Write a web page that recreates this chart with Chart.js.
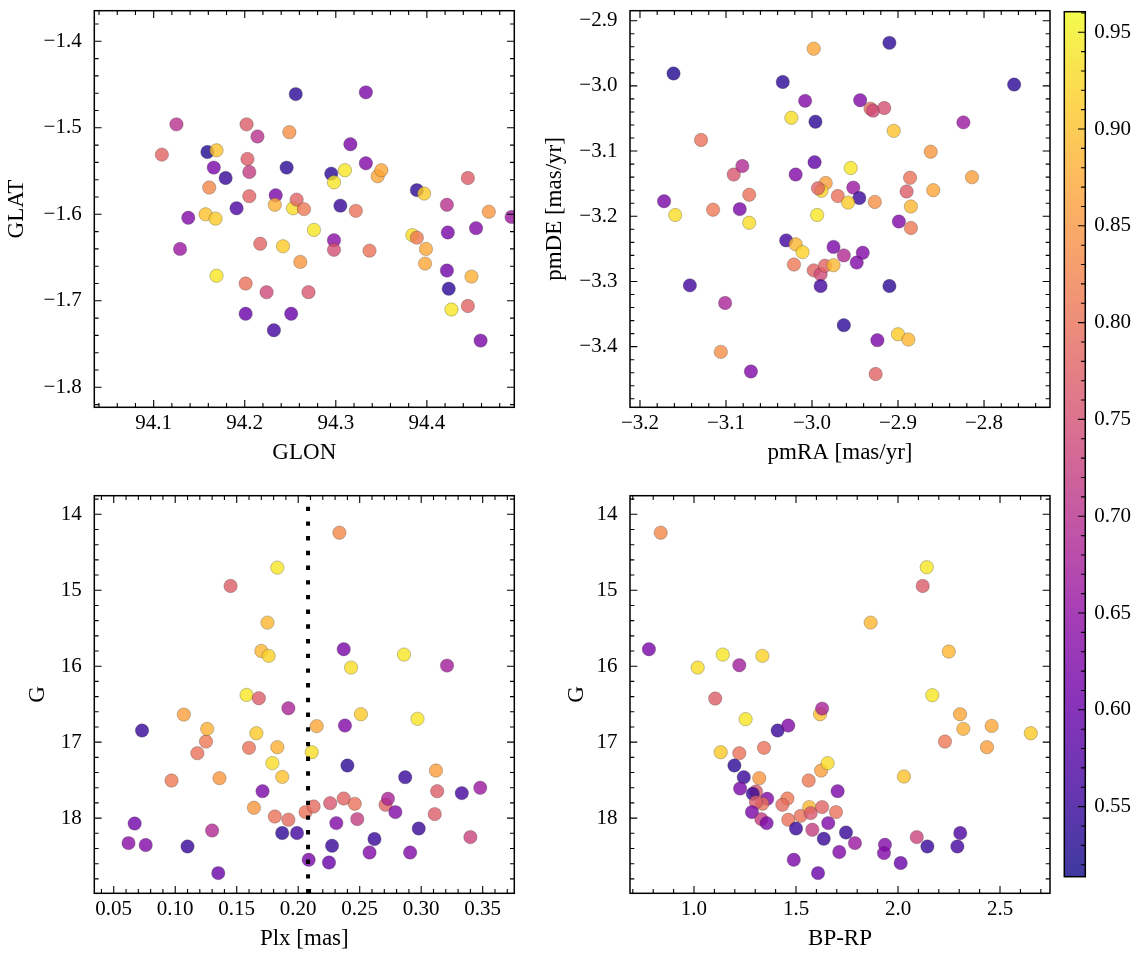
<!DOCTYPE html>
<html>
<head>
<meta charset="utf-8">
<script src="https://cdn.jsdelivr.net/npm/chart.js@4.4.0/dist/chart.umd.min.js"></script>
<style>
  html, body { margin: 0; padding: 0; background: #fff; overflow: hidden; }
  #fig { position: relative; width: 1144px; height: 960px; }
  #fig canvas { position: absolute; left: 0; top: 0; }
</style>
</head>
<body>
<div id="fig">
  <canvas id="pos" width="1144" height="960"></canvas>
  <canvas id="pm" width="1144" height="960"></canvas>
  <canvas id="plx" width="1144" height="960"></canvas>
  <canvas id="cmd" width="1144" height="960"></canvas>
  <canvas id="cbar" width="1144" height="960"></canvas>
</div>
<script>
// membership probability range (colour scale)
const probMin = 0.5138;
const probMax = 0.9606;

// GLON / GLAT panel
const glon = [94.109, 94.125, 94.138, 94.129, 94.159, 94.169, 94.166, 94.179, 94.161, 94.157,
  94.168, 94.191, 94.169, 94.202, 94.214, 94.203, 94.205, 94.205, 94.201, 94.201,
  94.217, 94.224, 94.232, 94.249, 94.246, 94.234, 94.233, 94.242, 94.251, 94.256,
  94.253, 94.257, 94.265, 94.261, 94.270, 94.276, 94.295, 94.298, 94.310, 94.305,
  94.298, 94.298, 94.316, 94.333, 94.333, 94.322, 94.337, 94.346, 94.350, 94.389,
  94.397, 94.384, 94.389, 94.399, 94.398, 94.422, 94.423, 94.422, 94.424, 94.427,
  94.445, 94.449, 94.445, 94.454, 94.459, 94.468, 94.493];
const glat = [-1.531, -1.496, -1.604, -1.640, -1.528, -1.526, -1.546, -1.558, -1.569, -1.600,
  -1.605, -1.593, -1.671, -1.496, -1.510, -1.536, -1.551, -1.579, -1.680, -1.715,
  -1.634, -1.690, -1.734, -1.505, -1.546, -1.578, -1.589, -1.637, -1.715, -1.461,
  -1.593, -1.583, -1.594, -1.655, -1.690, -1.618, -1.553, -1.563, -1.549, -1.590,
  -1.630, -1.641, -1.519, -1.459, -1.541, -1.596, -1.642, -1.556, -1.549, -1.572,
  -1.576, -1.624, -1.627, -1.640, -1.657, -1.589, -1.621, -1.665, -1.686, -1.710,
  -1.558, -1.672, -1.706, -1.616, -1.746, -1.597, -1.603];
const probPos = [0.78, 0.70, 0.63, 0.66, 0.53, 0.90, 0.62, 0.55, 0.83, 0.90,
  0.91, 0.57, 0.94, 0.77, 0.70, 0.77, 0.72, 0.78, 0.80, 0.60,
  0.78, 0.74, 0.56, 0.84, 0.54, 0.62, 0.88, 0.91, 0.60, 0.54,
  0.93, 0.78, 0.81, 0.85, 0.76, 0.94, 0.54, 0.94, 0.94, 0.55,
  0.64, 0.75, 0.62, 0.62, 0.63, 0.80, 0.80, 0.87, 0.87, 0.54,
  0.91, 0.93, 0.81, 0.87, 0.87, 0.70, 0.62, 0.61, 0.54, 0.94,
  0.77, 0.88, 0.78, 0.63, 0.62, 0.85, 0.66];

// pmRA / pmDE panel
const pmra = [-3.161, -3.129, -3.172, -3.159, -3.142, -3.115, -3.101, -3.106, -3.091, -3.081,
  -3.073, -3.084, -3.073, -3.071, -3.034, -3.008, -3.024, -2.996, -2.998, -2.997,
  -3.019, -2.984, -2.989, -2.993, -2.970, -2.994, -3.030, -3.019, -3.011, -3.021,
  -2.998, -2.990, -2.990, -2.985, -2.975, -2.975, -2.963, -2.963, -2.955, -2.952,
  -2.945, -2.958, -2.927, -2.948, -2.941, -2.910, -2.944, -2.932, -2.929, -2.916,
  -2.905, -2.910, -2.924, -2.926, -2.900, -2.888, -2.899, -2.885, -2.886, -2.890,
  -2.885, -2.862, -2.859, -2.824, -2.814, -2.765];
const pmde = [-2.981, -3.083, -3.177, -3.198, -3.306, -3.190, -3.333, -3.408, -3.136, -3.123,
  -3.167, -3.189, -3.210, -3.438, -2.994, -3.023, -3.049, -3.055, -2.943, -3.117,
  -3.136, -3.149, -3.161, -3.157, -3.169, -3.198, -3.237, -3.243, -3.255, -3.274,
  -3.283, -3.289, -3.307, -3.276, -3.275, -3.247, -3.260, -3.367, -3.126, -3.156,
  -3.172, -3.179, -3.178, -3.271, -3.256, -2.934, -3.022, -3.035, -3.038, -3.034,
  -3.069, -3.307, -3.390, -3.442, -3.381, -3.389, -3.208, -3.218, -3.141, -3.162,
  -3.185, -3.101, -3.160, -3.056, -3.140, -2.998];
const probPm = [0.53, 0.80, 0.62, 0.93, 0.56, 0.81, 0.68, 0.84, 0.76, 0.69,
  0.80, 0.62, 0.93, 0.63, 0.54, 0.63, 0.93, 0.54, 0.87, 0.59,
  0.63, 0.86, 0.92, 0.78, 0.80, 0.94, 0.56, 0.89, 0.92, 0.81,
  0.78, 0.74, 0.56, 0.78, 0.89, 0.62, 0.69, 0.54, 0.94, 0.66,
  0.55, 0.91, 0.84, 0.63, 0.63, 0.54, 0.63, 0.79, 0.74, 0.75,
  0.90, 0.54, 0.62, 0.78, 0.91, 0.89, 0.63, 0.81, 0.80, 0.77,
  0.89, 0.85, 0.87, 0.66, 0.86, 0.54];

// Plx / G panel
const plx = [0.062, 0.067, 0.076, 0.073, 0.097, 0.107, 0.110, 0.118, 0.125, 0.126,
  0.130, 0.135, 0.136, 0.145, 0.158, 0.168, 0.160, 0.166, 0.164, 0.170,
  0.176, 0.175, 0.183, 0.179, 0.183, 0.187, 0.171, 0.181, 0.192, 0.192,
  0.187, 0.199, 0.206, 0.2085, 0.2335, 0.237, 0.243, 0.286, 0.321, 0.251,
  0.297, 0.215, 0.238, 0.211, 0.240, 0.287, 0.312, 0.313, 0.333, 0.348,
  0.2125, 0.226, 0.237, 0.246, 0.231, 0.248, 0.2275, 0.225, 0.262, 0.258,
  0.271, 0.273, 0.279, 0.298, 0.291, 0.311, 0.340];
const gPlx = [18.329, 18.071, 18.355, 16.847, 17.505, 16.637, 18.373, 17.145, 16.992, 16.825,
  18.163, 18.724, 17.474, 14.943, 16.378, 16.421, 17.075, 16.882, 17.864, 15.799,
  15.864, 15.426, 14.702, 17.276, 17.066, 17.457, 17.645, 17.979, 18.022, 16.553,
  18.197, 18.197, 17.921, 18.549, 14.242, 15.776, 16.018, 15.847, 15.992, 16.632,
  16.693, 16.789, 16.781, 17.132, 17.308, 17.461, 17.374, 17.645, 17.671, 17.601,
  17.847, 17.803, 17.742, 17.812, 18.066, 18.013, 18.364, 18.584, 18.276, 18.453,
  17.825, 17.746, 17.921, 18.137, 18.453, 17.947, 18.250];
const probPlx = [0.64, 0.61, 0.63, 0.55, 0.81, 0.86, 0.55, 0.80, 0.81, 0.88,
  0.69, 0.60, 0.85, 0.77, 0.94, 0.77, 0.80, 0.91, 0.85, 0.89,
  0.92, 0.89, 0.94, 0.93, 0.88, 0.90, 0.62, 0.80, 0.79, 0.68,
  0.54, 0.56, 0.80, 0.62, 0.83, 0.62, 0.93, 0.94, 0.67, 0.91,
  0.94, 0.87, 0.63, 0.93, 0.54, 0.55, 0.86, 0.77, 0.56, 0.66,
  0.79, 0.76, 0.78, 0.80, 0.63, 0.72, 0.55, 0.60, 0.55, 0.63,
  0.78, 0.68, 0.63, 0.55, 0.63, 0.77, 0.73];
const plxCut = 0.208;

// BP-RP / G panel
const bpRp = [0.837, 0.779, 1.018, 1.141, 1.222, 1.335, 1.104, 1.253, 1.410, 1.462,
  1.618, 1.628, 1.131, 1.222, 1.343, 1.198, 1.244, 1.226, 1.320, 1.304,
  1.288, 1.359, 1.335, 1.304, 1.284, 1.330, 1.356, 1.458, 1.433, 1.462,
  1.523, 1.500, 1.562, 1.623, 1.655, 1.565, 1.572, 1.628, 1.580, 1.658,
  1.636, 1.489, 1.608, 1.704, 1.696, 1.712, 1.745, 1.789, 1.936, 1.931,
  2.013, 2.092, 2.144, 2.291, 2.305, 2.029, 2.141, 2.121, 1.866, 2.249,
  2.168, 2.304, 2.320, 2.459, 2.230, 2.436, 2.651];
const gCmd = [14.242, 15.776, 16.018, 15.847, 15.987, 15.864, 16.426, 16.697, 16.847, 16.781,
  16.632, 16.558, 17.132, 17.145, 17.075, 17.308, 17.461, 17.610, 17.474, 17.650,
  17.680, 17.746, 17.812, 17.790, 17.921, 18.013, 18.066, 17.742, 17.825, 18.022,
  17.970, 18.137, 17.505, 17.374, 17.276, 17.855, 17.934, 17.855, 18.154, 18.066,
  18.272, 18.549, 18.724, 17.645, 17.921, 18.447, 18.190, 18.329, 18.351, 18.461,
  18.592, 18.250, 18.373, 18.373, 18.197, 17.452, 14.697, 14.943, 15.426, 15.807,
  16.382, 16.632, 16.825, 16.786, 16.992, 17.066, 16.882];
const probCmd = [0.83, 0.62, 0.93, 0.94, 0.67, 0.92, 0.77, 0.94, 0.55, 0.63,
  0.90, 0.68, 0.91, 0.80, 0.80, 0.54, 0.55, 0.62, 0.85, 0.76,
  0.55, 0.63, 0.80, 0.77, 0.62, 0.72, 0.62, 0.81, 0.79, 0.80,
  0.80, 0.55, 0.81, 0.86, 0.93, 0.89, 0.76, 0.78, 0.72, 0.63,
  0.55, 0.62, 0.60, 0.62, 0.80, 0.63, 0.55, 0.66, 0.63, 0.63,
  0.60, 0.73, 0.55, 0.56, 0.57, 0.90, 0.94, 0.77, 0.89, 0.89,
  0.94, 0.87, 0.88, 0.87, 0.81, 0.86, 0.91];

// axis limits
const glonLim = [94.0348, 94.496];
const glatLim = [-1.8231, -1.3646];
const pmraLim = [-3.2116, -2.7233];
const pmdeLim = [-3.493, -2.8847];
const plxLim = [0.0342, 0.3757];
const gLim = [13.755, 18.99];
const bpRpLim = [0.6863, 2.745];

// ---------------------------------------------------------------

const serif = "'Liberation Serif', 'Times New Roman', serif";
const tickFont = { family: serif, size: 21, lineHeight: 1.2 };
const titleFont = { family: serif, size: 23, lineHeight: 1.2 };

// plasma colormap
const plasmaHex = ["#0d0887", "#41049d", "#6a00a8", "#8f0da4", "#b12a90", "#cc4778",
  "#e16462", "#f2844b", "#fca636", "#fcce25", "#f0f921"];
const plasmaRgb = plasmaHex.map((h) => [1, 3, 5].map((i) => parseInt(h.substr(i, 2), 16)));

function probColor(p, alpha = 0.8) {
  const t = Math.min(1, Math.max(0, (p - probMin) / (probMax - probMin)));
  const f = t * (plasmaRgb.length - 1);
  const i = Math.min(Math.floor(f), plasmaRgb.length - 2);
  const u = f - i;
  const c = plasmaRgb[i].map((v, k) => Math.round(v + (plasmaRgb[i + 1][k] - v) * u));
  return `rgba(${c[0]},${c[1]},${c[2]},${alpha})`;
}

function fmt(v, dec) {
  return (v < -1e-9 ? "\u2212" : "") + Math.abs(v).toFixed(dec);
}

// major + minor tick positions for a scale
function tickMarks(scale, minor) {
  const majors = scale.ticks.map((t) => t.value);
  const out = majors.map((v) => [v, 7.3]);
  const step = majors.length > 1 ? majors[1] - majors[0] : minor;
  for (let i = Math.ceil(scale.min / minor - 1e-9); i * minor <= scale.max + 1e-9; i++) {
    const v = i * minor;
    if (Math.abs(v / step - Math.round(v / step)) > 1e-6) out.push([v, 4.3]);
  }
  return out;
}

// matplotlib-like frame with inward ticks
const mplAxes = {
  id: "mplAxes",
  afterDraw(chart, args, opts) {
    const { ctx, chartArea: a } = chart;
    const xs = chart.scales.x, ys = chart.scales.y;
    const all = opts.sides !== "right";
    ctx.save();
    ctx.strokeStyle = "#000";
    ctx.lineWidth = 1.1;
    ctx.beginPath();
    if (all) {
      tickMarks(xs, opts.xMinor).forEach(([v, len]) => {
        const p = xs.getPixelForValue(v);
        ctx.moveTo(p, a.bottom); ctx.lineTo(p, a.bottom - len);
        ctx.moveTo(p, a.top); ctx.lineTo(p, a.top + len);
      });
    }
    tickMarks(ys, opts.yMinor).forEach(([v, len]) => {
      const p = ys.getPixelForValue(v);
      if (all) { ctx.moveTo(a.left, p); ctx.lineTo(a.left + len, p); }
      ctx.moveTo(a.right, p); ctx.lineTo(a.right - len, p);
    });
    ctx.stroke();
    ctx.lineWidth = 1.5;
    ctx.strokeRect(a.left, a.top, a.right - a.left, a.bottom - a.top);
    ctx.restore();
  },
};

// colour gradient of the colorbar
const colorbarFill = {
  id: "colorbarFill",
  beforeDatasetsDraw(chart) {
    const { ctx, chartArea: a, scales: { y } } = chart;
    ctx.save();
    ctx.beginPath();
    ctx.rect(a.left, a.top, a.right - a.left, a.bottom - a.top);
    ctx.clip();
    for (let py = Math.floor(a.top); py < a.bottom; py++) {
      ctx.fillStyle = probColor(y.getValueForPixel(py + 0.5));
      ctx.fillRect(a.left, py, a.right - a.left, 1);
    }
    ctx.restore();
  },
};

function scaleOpts(lim, step, dec, title, size, horizontal, reverse) {
  return {
    type: "linear",
    min: lim[0],
    max: lim[1],
    reverse: !!reverse,
    grid: { display: false, drawTicks: false },
    border: { display: false },
    ticks: {
      stepSize: step,
      includeBounds: false,
      autoSkip: false,
      maxRotation: 0,
      padding: horizontal ? 4 : 12.6,
      color: "#000",
      font: tickFont,
      callback: (v) => fmt(v, dec),
    },
    title: { display: !!title, text: title, color: "#000", font: titleFont, padding: 0 },
    afterFit: (s) => {
      if (horizontal) s.height = size;
      else s.width = size;
      s.paddingTop = s.paddingBottom = s.paddingLeft = s.paddingRight = 0;
    },
  };
}

function makePanel(id, xs, ys, probs, o) {
  const datasets = [];
  if (o.extra) datasets.push(o.extra);
  datasets.push({
    data: xs.map((x, i) => ({ x, y: ys[i] })),
    backgroundColor: probs.map((p) => probColor(p)),
    borderColor: "rgba(40,40,40,0.45)",
    borderWidth: 0.6,
    pointRadius: 6.7,
    pointHoverRadius: 6.7,
    clip: 0,
    order: 1,
  });
  return new Chart(document.getElementById(id), {
    type: "scatter",
    data: { datasets },
    options: {
      responsive: false,
      animation: false,
      events: [],
      layout: { padding: o.pad, autoPadding: false },
      plugins: {
        legend: { display: false },
        tooltip: { enabled: false },
        mplAxes: { xMinor: o.xMinor, yMinor: o.yMinor },
      },
      scales: { x: o.x, y: o.y },
    },
    plugins: [mplAxes],
  });
}

const xAxisH = 59.8;

makePanel("pos", glon, glat, probPos, {
  pad: { left: 3.2, top: 10.7, right: 629.7, bottom: 492.9 },
  xMinor: 0.02, yMinor: 0.02,
  x: scaleOpts(glonLim, 0.1, 1, "GLON", xAxisH, true),
  y: scaleOpts(glatLim, 0.1, 1, "GLAT", 91.1, false),
});

makePanel("pm", pmra, pmde, probPm, {
  pad: { left: 541.2, top: 10.7, right: 94, bottom: 492.9 },
  xMinor: 0.02, yMinor: 0.02,
  x: scaleOpts(pmraLim, 0.1, 1, "pmRA [mas/yr]", xAxisH, true),
  y: scaleOpts(pmdeLim, 0.1, 1, "pmDE [mas/yr]", 88.8, false),
});

makePanel("plx", plx, gPlx, probPlx, {
  pad: { left: 24.2, top: 495.7, right: 629.7, bottom: 6.9 },
  xMinor: 0.01, yMinor: 0.2,
  x: scaleOpts(plxLim, 0.05, 2, "Plx [mas]", xAxisH, true),
  y: scaleOpts(gLim, 1, 0, "G", 70.1, false, true),
  extra: {
    data: [{ x: plxCut, y: gLim[1] }, { x: plxCut, y: gLim[0] }],
    showLine: true,
    borderColor: "#000",
    borderWidth: 4,
    borderDash: [4.4, 10.3],
    borderCapStyle: "butt",
    pointRadius: 0,
    pointHoverRadius: 0,
    clip: 0,
    order: 0,
  },
});

makePanel("cmd", bpRp, gCmd, probCmd, {
  pad: { left: 562.9, top: 495.7, right: 94, bottom: 6.9 },
  xMinor: 0.1, yMinor: 0.2,
  x: scaleOpts(bpRpLim, 0.5, 1, "BP-RP", xAxisH, true),
  y: scaleOpts(gLim, 1, 0, "G", 67.1, false, true),
});

// colorbar
const cbY = scaleOpts([probMin, probMax], 0.05, 2, "", 50, false);
cbY.position = "right";
cbY.ticks.padding = 9;
new Chart(document.getElementById("cbar"), {
  type: "scatter",
  data: { datasets: [] },
  options: {
    responsive: false,
    animation: false,
    events: [],
    layout: { padding: { left: 1064.3, top: 11.7, right: 8.7, bottom: 83.3 }, autoPadding: false },
    plugins: {
      legend: { display: false },
      tooltip: { enabled: false },
      mplAxes: { yMinor: 0.01, sides: "right" },
    },
    scales: {
      x: { display: false, min: 0, max: 1 },
      y: cbY,
    },
  },
  plugins: [colorbarFill, mplAxes],
});
</script>
</body>
</html>
